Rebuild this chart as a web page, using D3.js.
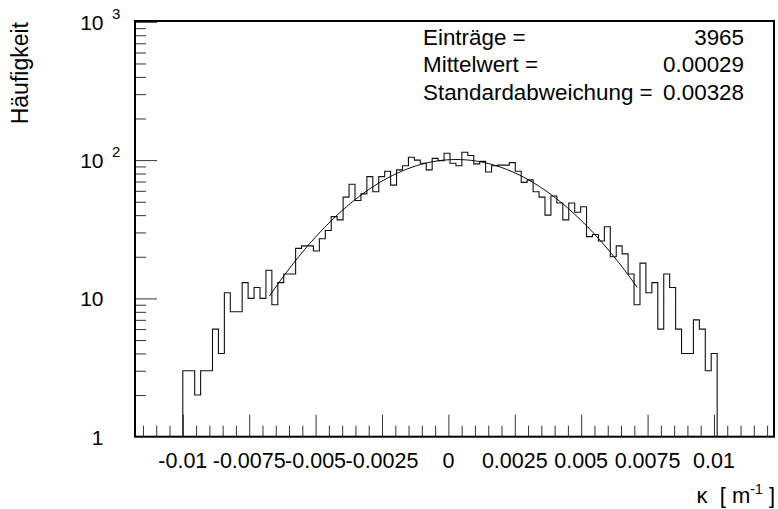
<!DOCTYPE html>
<html><head><meta charset="utf-8">
<script src="https://cdn.jsdelivr.net/npm/d3@7"></script>
<style>
body{margin:0;background:#fff}
text{font-family:"Liberation Sans",Arial,Helvetica,sans-serif;fill:#000;white-space:pre}
</style>
</head><body>
<svg id="c" width="778" height="509"></svg>
<script>
// ---- data ----
const counts = [3,3,2,3,3,6,4,11,8,8,
  13,10,12,10,16,9,13,15,15,23,
  24,24,22,27,31,39,37,54,67,51,
  57,76,59,76,83,66,85,91,105,100,
  95,85,103,99,112,95,91,114,108,94,
  98,82,91,92,92,96,83,69,72,59,
  54,40,55,49,37,49,42,46,28,29,
  26,33,20,24,21,15,9,18,11,13,
  6,15,12,6,4,4,7,6,3,4];
const binRange = [-0.01, 0.01012];
const xDomain = [-0.0118, 0.01226];
const yDomain = [1, 1014];
const xTickValues = [-0.01,-0.0075,-0.005,-0.0025,0,0.0025,0.005,0.0075,0.01];
const xTickLabels = ["-0.01","-0.0075","-0.005","-0.0025","0","0.0025","0.005","0.0075","0.01"];
const xMinorStep = 0.0005;
const yTickValues = [1,10,100,1000];
const yTickBase = ["1","10","10","10"];
const yTickExp = ["","","2","3"];
const statsLabels = ["Einträge =","Mittelwert =","Standardabweichung ="];
const statsValues = ["3965","0.00029","0.00328"];
const fitParams = [101, 0.0003, 0.0033]; // amplitude, mean, sigma
const fitRange = [-0.00674, 0.00711];
const yTitle = "Häufigkeit";

// ---- layout ----
const L = 135, R = 774, T = 21, B = 436.7;
const svg = d3.select("#c");
const x = d3.scaleLinear().domain(xDomain).range([L, R]);
const y = d3.scaleLog().domain(yDomain).range([B, T]);

// minor x ticks
const xMinor = d3.range(Math.ceil(xDomain[0]/xMinorStep), Math.floor(xDomain[1]/xMinorStep)+1)
  .map(k => k*xMinorStep).filter(v => !xTickValues.some(t => Math.abs(t-v) < 1e-9));
svg.append("g").attr("transform",`translate(0,${B})`)
  .call(d3.axisBottom(x).tickValues(xMinor).tickSize(-11).tickFormat(""))
  .call(g => g.select(".domain").remove())
  .selectAll("line").attr("stroke","#333");
svg.append("g").attr("transform",`translate(0,${B})`)
  .call(d3.axisBottom(x).tickValues(xTickValues).tickSize(-22).tickFormat(""))
  .call(g => g.select(".domain").remove())
  .selectAll("line").attr("stroke","#333");

// y ticks
const yMinor = [];
[1,10,100].forEach(d => { for (let m=2;m<=9;m++) yMinor.push(d*m); });
svg.append("g").attr("transform",`translate(${L},0)`)
  .call(d3.axisLeft(y).tickValues(yMinor).tickSize(-11).tickFormat(""))
  .call(g => g.select(".domain").remove())
  .selectAll("line").attr("stroke","#333");
svg.append("g").attr("transform",`translate(${L},0)`)
  .call(d3.axisLeft(y).tickValues(yTickValues.slice(1)).tickSize(-22).tickFormat(""))
  .call(g => g.select(".domain").remove())
  .selectAll("line").attr("stroke","#333");

// x tick labels
svg.append("g").selectAll("text").data(xTickValues).join("text")
  .attr("x", d => x(d)).attr("y", 467.5).attr("text-anchor","middle")
  .attr("font-size", 21.5).text((d,i) => xTickLabels[i]);

// y tick labels
const yl = svg.append("g");
yTickValues.forEach((v,i) => {
  yl.append("text").attr("x",103.5).attr("y", y(v)+8).attr("text-anchor","end")
    .attr("font-size",21).text(yTickBase[i]);
  if (yTickExp[i]) yl.append("text").attr("x",112).attr("y", y(v)-3)
    .attr("font-size",15).text(yTickExp[i]);
});

// histogram
const w = (binRange[1]-binRange[0])/counts.length;
const pts = [[binRange[0], 1]];
counts.forEach((c,i) => pts.push([binRange[0]+i*w, c]));
pts.push([binRange[1], counts[counts.length-1]]);
pts.push([binRange[1], 1]);
svg.append("path").attr("d", d3.line().x(d=>x(d[0])).y(d=>y(d[1])).curve(d3.curveStepAfter)(pts))
  .attr("fill","none").attr("stroke","#111").attr("stroke-width",1.1);

// fit curve
const [A, mu, sg] = fitParams;
const fx = d3.range(0, 201).map(i => fitRange[0] + (fitRange[1]-fitRange[0])*i/200);
svg.append("path").attr("d", d3.line().x(d=>x(d)).y(d=>y(A*Math.exp(-((d-mu)**2)/(2*sg*sg))))(fx))
  .attr("fill","none").attr("stroke","#000").attr("stroke-width",1);

// frame
svg.append("rect").attr("x",L).attr("y",T).attr("width",R-L).attr("height",B-T)
  .attr("fill","none").attr("stroke","#000").attr("stroke-width",2);

// stats
const sy = [44.5, 72, 99.5];
statsLabels.forEach((s,i) => {
  svg.append("text").attr("x",423).attr("y",sy[i]).attr("font-size",22.4).text(s);
  svg.append("text").attr("x",744).attr("y",sy[i]).attr("font-size",22.4).attr("text-anchor","end").text(statsValues[i]);
});

// axis titles
svg.append("text").attr("transform","translate(28,22) rotate(-90)").attr("text-anchor","end")
  .attr("font-size",23).text(yTitle);
const xt = svg.append("text").attr("x",775).attr("y",503).attr("text-anchor","end").attr("font-size",22);
xt.append("tspan").text("κ  [ m");
xt.append("tspan").attr("font-size",14).attr("dy",-9).text("-1");
xt.append("tspan").attr("dy",9).text(" ]");
</script>
</body></html>
